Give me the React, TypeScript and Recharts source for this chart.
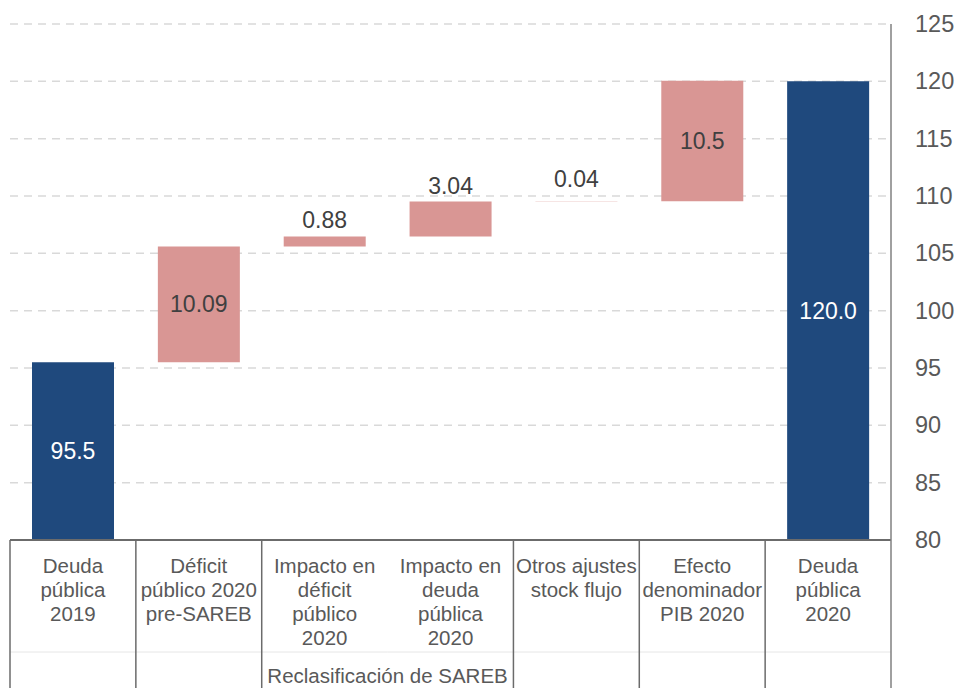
import React from 'react';
import { BarChart, Bar, XAxis, YAxis, CartesianGrid, Cell, LabelList } from 'recharts';

const categories: string[] = [
  'Deuda\npública\n2019',
  'Déficit\npúblico 2020\npre-SAREB',
  'Impacto en\ndéficit\npúblico\n2020',
  'Impacto en\ndeuda\npública\n2020',
  'Otros ajustes\nstock flujo',
  'Efecto\ndenominador\nPIB 2020',
  'Deuda\npública\n2020',
];
const values: number[] = [95.5, 10.09, 0.88, 3.04, 0.04, 10.5, 120.0];
const kinds: string[] = ['total', 'delta', 'delta', 'delta', 'delta', 'delta', 'total'];
const valueLabels: string[] = ['95.5', '10.09', '0.88', '3.04', '0.04', '10.5', '120.0'];
const yTicks: number[] = [80, 85, 90, 95, 100, 105, 110, 115, 120, 125];
const groupLabel = 'Reclasificación de SAREB';
const groupedCategories: number[] = [2, 3];
const Y_MIN = 80;
const Y_MAX = 125;

const FONT = '"Liberation Sans", Arial, Helvetica, sans-serif';
const DARK_BLUE = '#1F497D';
const PINK = '#D99694';
const TEXT = '#404040';
const AXIS_TEXT = '#595959';
const LINE = '#6b6b6b';

const W = 962;
const H = 688;
const PLOT_LEFT = 10;
const PLOT_RIGHT = 891;
const PLOT_TOP = 24;
const PLOT_BOTTOM = 540;
const CAT_W = (PLOT_RIGHT - PLOT_LEFT) / categories.length;

let running = 0;
const data = categories.map((name, i) => {
  let low: number;
  let high: number;
  if (kinds[i] === 'total') {
    low = Y_MIN;
    high = values[i];
    running = values[i];
  } else {
    low = running;
    high = running + values[i];
    running = high;
  }
  return { name, range: [low, high], label: valueLabels[i], kind: kinds[i] };
});

const CategoryTick = (props: any) => {
  const { x, payload, index } = props;
  const i = typeof index === 'number' ? index : payload.index;
  const lines = String(payload.value).split('\n');
  const left = x - CAT_W / 2;
  const right = x + CAT_W / 2;
  const top = PLOT_BOTTOM;
  const bottom = H;
  const els: React.ReactNode[] = [];
  els.push(<line key="hr" x1={left} x2={right} y1={652} y2={652} stroke="#e6e6e6" strokeWidth={1} />);
  if (!(groupedCategories.includes(i) && i === groupedCategories[1])) {
    els.push(<line key="l" x1={left} x2={left} y1={top} y2={bottom} stroke={LINE} strokeWidth={1.5} />);
  }
  if (i === categories.length - 1) {
    els.push(<line key="r" x1={right} x2={right} y1={top} y2={bottom} stroke="#808080" strokeWidth={1.5} />);
  }
  lines.forEach((ln, k) => {
    els.push(
      <text key={'t' + k} x={x} y={565 + k * 24} textAnchor="middle" dominantBaseline="central"
        fontSize={20.5} fill={AXIS_TEXT} fontFamily={FONT}>{ln}</text>
    );
  });
  if (i === groupedCategories[0]) {
    els.push(
      <text key="g" x={right} y={675} textAnchor="middle" dominantBaseline="central"
        fontSize={20.5} fill={AXIS_TEXT} fontFamily={FONT}>{groupLabel}</text>
    );
  }
  return <g>{els}</g>;
};

const YTick = (props: any) => {
  const { x, y, payload } = props;
  return (
    <text x={x} y={y} textAnchor="start" dominantBaseline="central" fontSize={23.5}
      fill={AXIS_TEXT} fontFamily={FONT}>{payload.value}</text>
  );
};

const ValueLabel = (props: any) => {
  const { x, y, width, height, index, value } = props;
  const d = data[index];
  const cx = x + width / 2;
  const h = Math.abs(height);
  const topY = Math.min(y, y + height);
  if (d.kind === 'total') {
    return (
      <text x={cx} y={topY + h / 2} textAnchor="middle" dominantBaseline="central" fontSize={23}
        fill="#ffffff" fontFamily={FONT}>{value}</text>
    );
  }
  if (h > 60) {
    return (
      <text x={cx} y={topY + h / 2} textAnchor="middle" dominantBaseline="central" fontSize={23}
        fill={TEXT} fontFamily={FONT}>{value}</text>
    );
  }
  return (
    <text x={cx} y={topY - (h < 2 ? 22 : 16)} textAnchor="middle" dominantBaseline="central" fontSize={23}
      fill={TEXT} fontFamily={FONT}>{value}</text>
  );
};

export default function App() {
  return (
    <div style={{ position: 'absolute', left: 0, top: 0, width: W, height: H, background: '#fff' }}>
      <BarChart
        width={W}
        height={H}
        data={data}
        margin={{ top: PLOT_TOP, right: 0, left: PLOT_LEFT, bottom: 0 }}
        barSize={82}
      >
        <CartesianGrid horizontal vertical={false} stroke="#d9d9d9" strokeDasharray="8 6" strokeWidth={1.5} />
        <XAxis
          dataKey="name"
          interval={0}
          tickLine={false}
          axisLine={{ stroke: LINE, strokeWidth: 2 }}
          height={H - PLOT_BOTTOM}
          tick={<CategoryTick />}
        />
        <YAxis
          orientation="right"
          domain={[Y_MIN, Y_MAX]}
          ticks={yTicks}
          interval={0}
          allowDataOverflow
          tickLine={false}
          axisLine={{ stroke: '#808080', strokeWidth: 1.5 }}
          width={W - PLOT_RIGHT}
          tickMargin={18}
          tick={<YTick />}
        />
        <Bar dataKey="range" isAnimationActive={false}>
          {data.map((d, i) => (
            <Cell key={i} fill={d.kind === 'total' ? DARK_BLUE : PINK} />
          ))}
          <LabelList dataKey="label" content={<ValueLabel />} />
        </Bar>
      </BarChart>
    </div>
  );
}
